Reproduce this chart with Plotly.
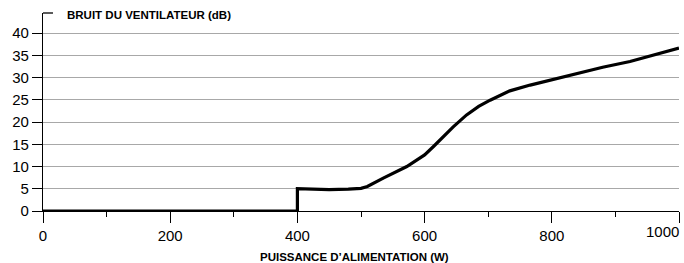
import plotly.graph_objects as go

power = [0, 400, 400, 420, 450, 480, 500, 510, 535, 572, 600, 614, 624, 645, 666, 685, 703, 734, 766, 800, 844, 880, 923, 960, 1000]
noise = [0, 0, 5, 4.9, 4.8, 4.9, 5.1, 5.5, 7.4, 10, 12.6, 14.5, 16, 18.9, 21.6, 23.5, 24.9, 27, 28.3, 29.5, 31.1, 32.3, 33.6, 35, 36.6]

y_ticks = [0, 5, 10, 15, 20, 25, 30, 35, 40]
x_ticks = [0, 200, 400, 600, 800, 1000]
y_title = "BRUIT DU VENTILATEUR (dB)"
x_title = "PUISSANCE D\u2019ALIMENTATION (W)"

FONT = "Liberation Sans, Arial, Helvetica, sans-serif"

fig = go.Figure()
fig.add_trace(go.Scatter(
    x=power, y=noise, mode="lines",
    line=dict(color="black", width=3.2, shape="linear"),
    cliponaxis=False, hoverinfo="skip", showlegend=False,
))

# last x tick label is drawn right-aligned to its tick (as in the reference)
x_ticktext = [str(v) for v in x_ticks[:-1]] + [""]

fig.update_layout(
    width=684, height=263,
    margin=dict(l=43, r=5, t=13, b=52, autoexpand=False),
    paper_bgcolor="white", plot_bgcolor="white",
    font=dict(family=FONT, color="black"),
    xaxis=dict(
        range=[0, 1000], tickvals=x_ticks, ticktext=x_ticktext,
        ticks="outside", ticklen=11, tickwidth=1.3, tickcolor="black",
        showline=True, linecolor="black", linewidth=1.3,
        showgrid=False, zeroline=False, automargin=False,
        tickfont=dict(size=15, family=FONT),
        minor=dict(dtick=100, tick0=0, ticks="outside", ticklen=5, tickwidth=1.3,
                   tickcolor="black", showgrid=False),
        fixedrange=True,
    ),
    yaxis=dict(
        range=[0, 44.5], tickvals=y_ticks, ticktext=[str(v) for v in y_ticks],
        ticks="outside", ticklen=10, tickwidth=1.3, tickcolor="black",
        showline=True, linecolor="black", linewidth=1.3,
        showgrid=True, gridcolor="#a8a8a8", gridwidth=1,
        zeroline=False, automargin=False,
        tickfont=dict(size=15, family=FONT),
        fixedrange=True,
    ),
)

fig.add_annotation(text=str(x_ticks[-1]), x=x_ticks[-1], xref="x",
                   y=-0.105, yref="paper", xanchor="right", yanchor="middle",
                   xshift=2, showarrow=False,
                   font=dict(size=15, family=FONT, color="black"))

# small cap at the top of the y axis
fig.add_shape(type="line", xref="paper", yref="paper",
              x0=0, x1=0.0157, y0=1, y1=1,
              line=dict(color="black", width=1.3))

fig.add_annotation(text="<b>" + y_title + "</b>", xref="paper", yref="paper",
                   x=0.034, y=0.988, xanchor="left", yanchor="middle",
                   showarrow=False, font=dict(size=11.5, family=FONT, color="black"))
fig.add_annotation(text="<b>" + x_title + "</b>", xref="paper", yref="paper",
                   x=0.49, y=-0.231, xanchor="center", yanchor="middle",
                   showarrow=False, font=dict(size=11.5, family=FONT, color="black"))

fig.write_html("out.html", config={"displayModeBar": False},
               post_script="document.body.style.margin='0';document.body.style.padding='0';")
